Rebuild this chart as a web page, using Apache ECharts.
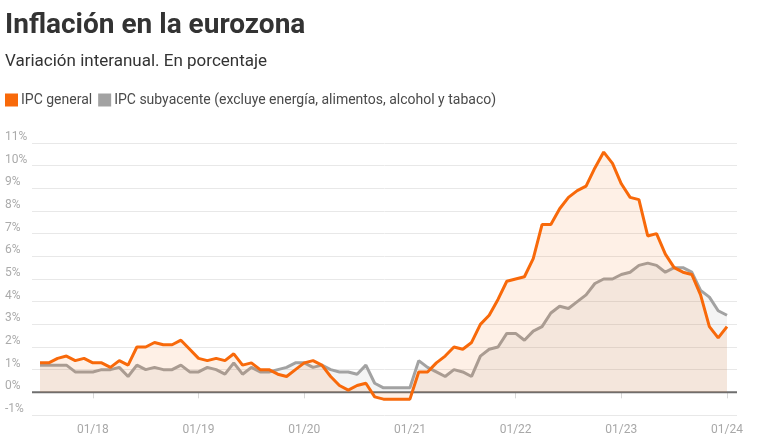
<!DOCTYPE html>
<html>
<head>
<meta charset="utf-8">
<script src="https://cdn.jsdelivr.net/npm/echarts@6/dist/echarts.min.js"></script>
<style>
  html, body { margin: 0; padding: 0; background: #fff; }
  #chart { width: 758px; height: 444px; }
</style>
</head>
<body>
<div id="chart"></div>
<script>
// meses: de 06/2017 a 12/2023
var months = [];
for (var y = 2017; y <= 2023; y++) {
    for (var m = (y === 2017 ? 6 : 1); m <= 12; m++) {
        months.push(y + '-' + (m < 10 ? '0' + m : m));
    }
}

var ipcGeneral = [
    1.3, 1.3, 1.5, 1.6, 1.4, 1.5, 1.3,
    1.3, 1.1, 1.4, 1.2, 2.0, 2.0, 2.2, 2.1, 2.1, 2.3, 1.9, 1.5,
    1.4, 1.5, 1.4, 1.7, 1.2, 1.3, 1.0, 1.0, 0.8, 0.7, 1.0, 1.3,
    1.4, 1.2, 0.7, 0.3, 0.1, 0.3, 0.4, -0.2, -0.3, -0.3, -0.3, -0.3,
    0.9, 0.9, 1.3, 1.6, 2.0, 1.9, 2.2, 3.0, 3.4, 4.1, 4.9, 5.0,
    5.1, 5.9, 7.4, 7.4, 8.1, 8.6, 8.9, 9.1, 9.9, 10.6, 10.1, 9.2,
    8.6, 8.5, 6.9, 7.0, 6.1, 5.5, 5.3, 5.2, 4.3, 2.9, 2.4, 2.9
];

var ipcSubyacente = [
    1.2, 1.2, 1.2, 1.2, 0.9, 0.9, 0.9,
    1.0, 1.0, 1.1, 0.7, 1.2, 1.0, 1.1, 1.0, 1.0, 1.2, 0.9, 0.9,
    1.1, 1.0, 0.8, 1.3, 0.8, 1.1, 0.9, 0.9, 1.0, 1.1, 1.3, 1.3,
    1.1, 1.2, 1.0, 0.9, 0.9, 0.8, 1.2, 0.4, 0.2, 0.2, 0.2, 0.2,
    1.4, 1.1, 0.9, 0.7, 1.0, 0.9, 0.7, 1.6, 1.9, 2.0, 2.6, 2.6,
    2.3, 2.7, 2.9, 3.5, 3.8, 3.7, 4.0, 4.3, 4.8, 5.0, 5.0, 5.2,
    5.3, 5.6, 5.7, 5.6, 5.3, 5.5, 5.5, 5.3, 4.5, 4.2, 3.6, 3.4
];

var tickLabels = ['01/18', '01/19', '01/20', '01/21', '01/22', '01/23', '01/24'];

var orange = '#f8690a';
var grey = '#a2a2a2';
var font = 'Roboto, "Noto Sans", sans-serif';

var isTick = function (idx) { return idx % 12 === 6; };

var myChart = echarts.init(document.getElementById('chart'));
var option = {
    animation: false,
    textStyle: { fontFamily: font },
    title: {
        text: 'Inflación en la eurozona',
        subtext: 'Variación interanual. En porcentaje',
        left: 5, top: 12, padding: 0, itemGap: 13,
        textStyle: { fontSize: 28, fontWeight: 'bold', color: '#333', fontFamily: font },
        subtextStyle: { fontSize: 17, color: '#333', fontFamily: font }
    },
    legend: {
        data: ['IPC general', 'IPC subyacente (excluye energía, alimentos, alcohol y tabaco)'],
        left: 5, top: 93, padding: 0,
        itemWidth: 13, itemHeight: 13, itemGap: 6,
        icon: 'rect',
        selectedMode: false,
        textStyle: { fontSize: 14, color: '#4a4a4a', fontFamily: font, padding: [0, 0, 0, -2] }
    },
    grid: [
        { left: 32, right: 21, top: 143, bottom: 29 },
        { left: 40, right: 31, top: 143, bottom: 29 }
    ],
    xAxis: [
        { gridIndex: 0, type: 'value', min: 0, max: 1, show: false },
        {
            gridIndex: 1, type: 'category', data: months, boundaryGap: false,
            axisLine: { show: false },
            axisTick: { show: true, interval: isTick, length: 6, lineStyle: { color: '#d8d8d8' } },
            axisLabel: {
                interval: isTick, margin: 9, fontSize: 12, color: '#a8a8a8', fontFamily: font,
                formatter: function (v, idx) { return tickLabels[(idx - 6) / 12]; }
            },
            splitLine: { show: false }
        }
    ],
    yAxis: [
        {
            gridIndex: 0, type: 'value', min: -1, max: 11, interval: 1,
            axisLine: { show: false }, axisTick: { show: false },
            axisLabel: {
                formatter: '{value}%', align: 'left', verticalAlign: 'bottom',
                margin: 27, fontSize: 12, color: '#ababab', fontFamily: font
            },
            splitLine: { lineStyle: { color: '#e8e8e8', width: 1 } }
        },
        { gridIndex: 1, type: 'value', min: -1, max: 11, interval: 1, show: false }
    ],
    series: [
        {
            name: 'IPC subyacente (excluye energía, alimentos, alcohol y tabaco)',
            type: 'line', xAxisIndex: 1, yAxisIndex: 1,
            data: ipcSubyacente, symbol: 'none', z: 3,
            lineStyle: { color: grey, width: 3 },
            itemStyle: { color: grey },
            areaStyle: { color: grey, opacity: 0.12 }
        },
        {
            name: 'IPC general',
            type: 'line', xAxisIndex: 1, yAxisIndex: 1,
            data: ipcGeneral, symbol: 'none', z: 4,
            lineStyle: { color: orange, width: 3 },
            itemStyle: { color: orange },
            areaStyle: { color: orange, opacity: 0.1 }
        },
        {
            // línea del cero, de lado a lado de la rejilla
            type: 'line', xAxisIndex: 0, yAxisIndex: 0,
            data: [[0, 0], [1, 0]], symbol: 'none', silent: true, z: 3,
            lineStyle: { color: '#6e6e6e', width: 2 }
        }
    ]
};
myChart.setOption(option);
window.addEventListener('resize', function () {
    myChart.resize();
});
</script>
</body>
</html>
